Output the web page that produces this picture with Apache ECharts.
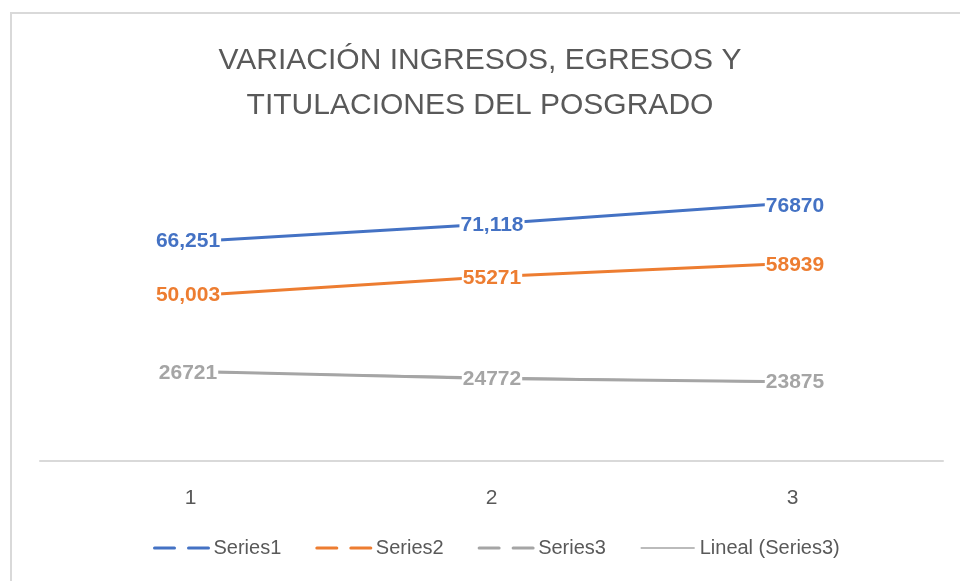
<!DOCTYPE html>
<html>
<head>
<meta charset="utf-8">
<script src="https://cdn.jsdelivr.net/npm/echarts@6/dist/echarts.min.js"></script>
<style>html,body{margin:0;padding:0;background:#fff;}#c{width:960px;height:581px;}</style>
</head>
<body>
<div id="c"></div>
<script>
var categories = ['1', '2', '3'];
var series1 = [66251, 71118, 76870];
var series2 = [50003, 55271, 58939];
var series3 = [26721, 24772, 23875];
var trend3 = [26546, 25123, 23700];
var labels1 = ['66,251', '71,118', '76870'];
var labels2 = ['50,003', '55271', '58939'];
var labels3 = ['26721', '24772', '23875'];
var seriesNames = ['Series1', 'Series2', 'Series3', 'Lineal (Series3)'];
var titleText = 'VARIACIÓN INGRESOS, EGRESOS Y\nTITULACIONES DEL POSGRADO';

var labelDx = [-27, 2, 30];
var FONT = 'Liberation Sans';

function buildData(vals, texts, color) {
  return vals.map(function (v, i) {
    return {
      value: v,
      label: {
        show: true,
        position: 'inside',
        offset: [labelDx[i], 1],
        formatter: texts[i],
        color: color,
        fontFamily: FONT,
        fontWeight: 'bold',
        fontSize: 21,
        backgroundColor: '#fff',
        padding: [0, 1]
      }
    };
  });
}

var chart = echarts.init(document.getElementById('c'), null, {renderer: 'canvas'});
chart.setOption({
  animation: false,
  backgroundColor: '#fff',
  title: {
    text: titleText,
    left: 'center',
    top: 33,
    textStyle: {fontFamily: FONT, fontSize: 30, fontWeight: 'normal', color: '#595959', lineHeight: 45}
  },
  graphic: [{
    type: 'rect', silent: true, z: -10,
    shape: {x: 11, y: 13, width: 980, height: 620},
    style: {fill: 'none', stroke: '#d9d9d9', lineWidth: 2}
  }],
  legend: {
    bottom: 18,
    left: 148,
    itemWidth: 54,
    itemHeight: 10,
    itemGap: 34,
    textStyle: {fontFamily: FONT, fontSize: 20, color: '#595959'},
    data: [
      {name: seriesNames[0], itemStyle: {opacity: 0}, lineStyle: {type: [20, 14], width: 3}},
      {name: seriesNames[1], itemStyle: {opacity: 0}, lineStyle: {type: [20, 14], width: 3}},
      {name: seriesNames[2], itemStyle: {opacity: 0}, lineStyle: {type: [20, 14], width: 3}},
      {name: seriesNames[3], itemStyle: {opacity: 0}, lineStyle: {width: 1.5}}
    ]
  },
  grid: [
    {left: 215, right: 195, top: 161, bottom: 120},
    {left: 40, right: 17, top: 161, bottom: 120}
  ],
  xAxis: [
    {type: 'category', gridIndex: 0, data: categories, boundaryGap: false, show: false},
    {type: 'category', gridIndex: 1, data: categories, boundaryGap: true,
     axisLine: {lineStyle: {color: '#d9d9d9', width: 2}},
     axisTick: {show: false},
     axisLabel: {color: '#595959', fontFamily: FONT, fontSize: 21, margin: 27}}
  ],
  yAxis: [
    {type: 'value', gridIndex: 0, min: 0, max: 90000, show: false, splitLine: {show: false}},
    {type: 'value', gridIndex: 1, min: 0, max: 90000, show: false, splitLine: {show: false}}
  ],
  series: [
    {name: seriesNames[0], type: 'line', xAxisIndex: 0, yAxisIndex: 0, symbol: 'circle', symbolSize: 0, showSymbol: true, z: 3,
     data: buildData(series1, labels1, '#4472c4'),
     lineStyle: {color: '#4472c4', width: 3, cap: 'round'}, itemStyle: {color: '#4472c4'}},
    {name: seriesNames[1], type: 'line', xAxisIndex: 0, yAxisIndex: 0, symbol: 'circle', symbolSize: 0, showSymbol: true, z: 3,
     data: buildData(series2, labels2, '#ed7d31'),
     lineStyle: {color: '#ed7d31', width: 3, cap: 'round'}, itemStyle: {color: '#ed7d31'}},
    {name: seriesNames[2], type: 'line', xAxisIndex: 0, yAxisIndex: 0, symbol: 'circle', symbolSize: 0, showSymbol: true, z: 3,
     data: buildData(series3, labels3, '#a5a5a5'),
     lineStyle: {color: '#a5a5a5', width: 3, cap: 'round'}, itemStyle: {color: '#a5a5a5'}},
    {name: seriesNames[3], type: 'line', xAxisIndex: 0, yAxisIndex: 0, symbol: 'none', z: 2,
     data: trend3,
     lineStyle: {color: '#a5a5a5', width: 1.5}, itemStyle: {color: '#a5a5a5'}}
  ]
});
</script>
</body>
</html>
